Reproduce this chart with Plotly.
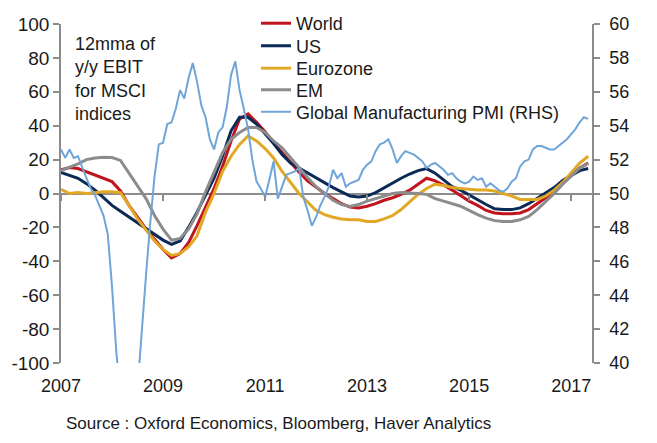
import plotly.graph_objects as go

# ---- data (month offsets from Jan 2007) ----
months_2m = list(range(0, 125, 2))
months_1m = list(range(0, 125))

world = [14, 15.3, 14.7, 12.8, 11, 9.2, 7, 1.5, -7, -14,
         -21, -27, -33, -38, -35.5, -29, -19, -8, 3, 16,
         31, 44, 47, 42, 36.5, 30, 24, 18, 12.5, 7.5,
         3.5, 0, -3, -6, -8, -8.5, -7.5, -6, -4, -2.5,
         -0.5, 2, 5.5, 9, 7.5, 5, 2, -1.5, -4.5, -7,
         -10, -11.5, -12, -12, -11.5, -9.5, -6, -2.5, 2, 7.5,
         11, 15, 18]

us = [12.4, 10.6, 9, 5.8, 2, -2.5, -7, -10.5, -14, -17.5,
      -21, -24, -27.5, -30, -28, -20, -11, -1, 9, 22,
      37, 45, 45, 41, 35.5, 29.5, 23, 18, 15, 12,
      9.5, 6.5, 3.5, 1, -1.5, -2, -1.5, 0.5, 3.5, 6.5,
      9, 11.5, 13.5, 14.7, 12, 8, 4, 2, -1, -4,
      -6.5, -9, -9.5, -9.5, -8.5, -6, -3, 0, 3.5, 7.7,
      10.5, 13.5, 14.7]

eurozone = [2.5, 0, 0.6, 0, 0.5, 1, 1, 0.5, -7, -15,
            -21.5, -28, -33, -36.5, -35.5, -31.5, -25, -11, 0, 13,
            22, 29, 34, 31, 26.5, 21, 13, 6.5, 0, -5,
            -10, -12.5, -14, -15, -15.5, -15.5, -16.5, -16.5, -15, -13,
            -9.5, -5, -0.5, 3, 5.5, 4.7, 3.5, 3, 2.5, 2,
            2, 1.5, 0, -1.5, -3.5, -3.6, -3.5, -1.5, 2, 6.5,
            12.5, 18, 22]

em = [13.5, 15.5, 17.5, 20, 21, 21.4, 21.2, 19.5, 12, 5,
      -3, -13, -21, -27.5, -26.5, -21, -12, 1, 13, 24,
      32, 36, 39, 39, 36, 31, 27, 21, 15, 9.5,
      4, 0, -4, -6.5, -7.7, -6.5, -4.5, -3, -1.5, 0,
      0.6, 0.5, 0, -0.5, -3, -4.5, -6, -7.5, -10, -12.5,
      -14.5, -16, -16.5, -16.5, -15.5, -13.5, -9.5, -5, 0, 5.5,
      10, 15, 17.7]

pmi = [52.6, 52.1, 52.6, 52.1, 52.2, 51.5, 50.9, 50.3, 49.9, 49.3,
       48.7, 47.6, 44.5, 40.7, 37.0, 35.0, 34.5, 35.5, 38.5, 42.0,
       45.2, 48.3, 51.0, 52.9, 53.0, 54.1, 54.2, 55.0, 56.1, 55.6,
       56.8, 57.7, 56.6, 55.2, 54.5, 53.2, 52.6, 53.6, 53.9, 55.1,
       57.0, 57.8, 56.1, 55.0, 53.8, 52.0, 50.7, 50.3, 49.8, 50.8,
       51.9, 49.7, 50.4, 51.1, 51.2, 51.3, 51.5, 49.8, 49.0, 48.1,
       48.6, 49.3, 49.8, 50.4, 51.4, 50.9, 51.2, 50.4, 50.6, 50.7,
       50.8, 51.4, 51.7, 51.9, 52.5, 52.9, 53.0, 53.2, 52.6, 51.8,
       52.2, 52.5, 52.4, 52.3, 52.1, 51.9, 51.5, 51.7, 51.8, 51.6,
       51.4, 51.1, 51.2, 50.9, 50.7, 50.6, 50.7, 51.0, 50.8, 50.9,
       50.4, 50.6, 50.4, 50.2, 50.1, 50.3, 50.7, 50.9, 51.6, 51.9,
       52.0, 52.6, 52.8, 52.8, 52.7, 52.6, 52.6, 52.8, 53.0, 53.2,
       53.5, 53.8, 54.2, 54.5, 54.4]

year_ticks = [2007, 2009, 2011, 2013, 2015, 2017]
left_ticks = list(range(-100, 101, 20))
left_labels = [str(v) for v in left_ticks]          # plain hyphen minus
right_ticks = list(range(40, 61, 2))

x2m = [2007 + m / 12 for m in months_2m]
x1m = [2007 + m / 12 for m in months_1m]

FONT = "Arial, Liberation Sans, sans-serif"
AXC = "#8c8c8c"
TXT = "#1a1a1a"
W, H = 657, 443

series = [
    ("World", x2m, world, "#C0141E", 3, "y", "legend"),
    ("US", x2m, us, "#0B2A55", 3, "y", "legend2"),
    ("Eurozone", x2m, eurozone, "#E1A826", 3, "y", "legend3"),
    ("EM", x2m, em, "#8C8C8C", 3, "y", "legend4"),
    ("Global Manufacturing PMI (RHS)", x1m, pmi, "#6FA5D8", 2, "y2", "legend5"),
]

fig = go.Figure()
for name, xs, ys, col, w, yax, lg in series:
    fig.add_trace(go.Scatter(x=xs, y=ys, name=name, mode="lines", yaxis=yax,
                             legend=lg, line=dict(color=col, width=w)))
# helper trace so the tick-only axis at the zero line is rendered
fig.add_trace(go.Scatter(x=[None], y=[None], xaxis="x2", showlegend=False,
                         hoverinfo="skip"))

xr = [2007, 2007 + 124.9 / 12]

# one legend per row (container-referenced, so margins are not pushed)
row_centers_px = [23, 45.5, 68, 89.5, 111.5]
legend_defs = {}
for i, c in enumerate(row_centers_px):
    key = "legend" if i == 0 else f"legend{i + 1}"
    legend_defs[key] = dict(
        x=256 / W, xref="container", xanchor="left",
        y=1 - (c - 18) / H, yref="container", yanchor="top",
        font=dict(size=18, family=FONT, color=TXT),
        bgcolor="rgba(0,0,0,0)", itemwidth=30)

fig.update_layout(
    width=W, height=H, autosize=False,
    margin=dict(l=61, r=65, t=24, b=80, autoexpand=False),
    paper_bgcolor="white", plot_bgcolor="white",
    font=dict(family=FONT, color=TXT),
    showlegend=True,
    **legend_defs,
    xaxis=dict(range=xr, tickvals=year_ticks,
               ticktext=[str(t) for t in year_ticks],
               showline=False, ticks="", showgrid=False, zeroline=False,
               tickfont=dict(size=18), ticklabelstandoff=10),
    xaxis2=dict(range=xr, overlaying="x", anchor="free", position=0.5,
                tickvals=year_ticks, showticklabels=False, ticks="outside",
                ticklen=6, tickcolor=AXC, tickwidth=1.5,
                showline=False, showgrid=False, zeroline=False),
    yaxis=dict(range=[-100, 100], tickvals=left_ticks, ticktext=left_labels,
               showline=True, linecolor=AXC, linewidth=1.5,
               ticks="outside", ticklen=6, tickcolor=AXC, tickwidth=1.5,
               showgrid=False, zeroline=True, zerolinecolor=AXC,
               zerolinewidth=1.5, tickfont=dict(size=19)),
    yaxis2=dict(range=[40, 60], tickvals=right_ticks, overlaying="y",
                side="right", showline=True, linecolor=AXC, linewidth=1.5,
                ticks="outside", ticklen=6, tickcolor=AXC, tickwidth=1.5,
                showgrid=False, zeroline=False, tickfont=dict(size=18),
                ticklabelstandoff=6),
    annotations=[
        dict(text="12mma of<br>y/y EBIT<br>for MSCI<br>indices",
             x=0.0226, y=0.976, xref="paper", yref="paper",
             xanchor="left", yanchor="top", align="left", showarrow=False,
             font=dict(size=18, family=FONT, color=TXT)),
        dict(text="Source : Oxford Economics, Bloomberg, Haver Analytics",
             x=0.006, y=-0.177, xref="paper", yref="paper",
             xanchor="left", yanchor="middle", showarrow=False,
             font=dict(size=17, family=FONT, color=TXT)),
    ],
)

fig.write_html("out.html")
